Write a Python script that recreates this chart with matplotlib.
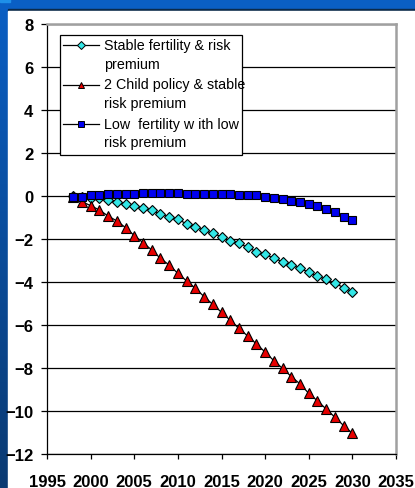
import numpy as np
import matplotlib
matplotlib.use("Agg")
import matplotlib.pyplot as plt
from matplotlib.patches import Rectangle
from matplotlib.lines import Line2D
from matplotlib.colors import LinearSegmentedColormap

plt.rcParams['font.family'] = ['Liberation Sans', 'DejaVu Sans']

years = list(range(1998, 2031))

stable_fertility = [0.00, -0.03, -0.08, -0.11, -0.19, -0.26, -0.36, -0.45, -0.54, -0.67,
                    -0.84, -0.98, -1.09, -1.29, -1.43, -1.60, -1.74, -1.89, -2.09, -2.20,
                    -2.39, -2.59, -2.71, -2.90, -3.05, -3.21, -3.36, -3.55, -3.72, -3.88,
                    -4.06, -4.26, -4.45]

two_child = [-0.06, -0.26, -0.45, -0.65, -0.93, -1.16, -1.47, -1.84, -2.17, -2.51,
             -2.90, -3.21, -3.60, -3.95, -4.29, -4.68, -5.04, -5.41, -5.78, -6.16,
             -6.51, -6.88, -7.26, -7.66, -8.02, -8.40, -8.74, -9.18, -9.53, -9.91,
             -10.29, -10.68, -11.04]

low_fertility = [-0.03, -0.03, 0.03, 0.03, 0.09, 0.09, 0.09, 0.09, 0.16, 0.16,
                 0.16, 0.16, 0.16, 0.09, 0.09, 0.09, 0.09, 0.09, 0.09, 0.03,
                 0.03, 0.03, -0.03, -0.09, -0.16, -0.22, -0.26, -0.39, -0.48, -0.62,
                 -0.76, -0.96, -1.12]

labels = ["Stable fertility & risk\npremium",
          "2 Child policy & stable\nrisk premium",
          "Low  fertility w ith low\nrisk premium"]

x_ticks = list(range(1995, 2036, 5))
y_ticks = list(range(-12, 9, 2))

W, H = 415, 489
fig = plt.figure(figsize=(W / 100, H / 100), dpi=100)

# slide background: blue gradient with a white content panel
bg = fig.add_axes([0, 0, 1, 1], zorder=-10)
bg.set_axis_off()
grad = np.linspace(0, 1, 256).reshape(-1, 1)
cmap = LinearSegmentedColormap.from_list("slide", ["#0a5fc4", "#0a3a72"])
bg.imshow(grad, aspect="auto", cmap=cmap, extent=[0, W, H, 0])
bg.set_xlim(0, W)
bg.set_ylim(H, 0)
bg.add_patch(Rectangle((0, 0), W, 10, color="#0a5fc4", zorder=1))
bg.add_patch(Rectangle((0, 0), 10, 2.5, color="#1e90e8", zorder=2))
bg.add_patch(Rectangle((8, 10), W, 2, color="#0b2a4a", zorder=2))
bg.add_patch(Rectangle((8, 11.5), W, H, color="white", zorder=2))

ax = fig.add_axes([47 / W, 1 - 455 / H, (396 - 47) / W, (455 - 25) / H])
ax.set_facecolor("white")

styles = [
    dict(marker="D", ms=5.5, mfc="#33e6e6"),
    dict(marker="^", ms=6.8, mfc="#e60000"),
    dict(marker="s", ms=6.3, mfc="#0000f0"),
]
series = [stable_fertility, two_child, low_fertility]
for vals, st, z in zip(series, styles, (3, 3, 4)):
    ax.plot(years, vals, color="black", lw=0.9, mec="black", mew=0.8, zorder=z, **st)

ax.set_xlim(1995, 2035)
ax.set_ylim(-12, 8)
ax.set_xticks(x_ticks)
ax.set_yticks(y_ticks)
ax.yaxis.grid(True, color="black", lw=0.9)
ax.set_axisbelow(True)

for side in ("top", "right"):
    ax.spines[side].set_color("#a0a0a0")
    ax.spines[side].set_linewidth(1.8)
for side in ("left", "bottom"):
    ax.spines[side].set_color("black")
    ax.spines[side].set_linewidth(0.9)

ax.tick_params(axis="both", direction="out", width=0.9, color="black", labelsize=12)
ax.tick_params(axis="x", length=3.6, pad=10.5)
ax.tick_params(axis="y", length=4.3, pad=5.5)
for lab in ax.get_xticklabels() + ax.get_yticklabels():
    lab.set_fontweight("bold")

# legend box, laid out in figure pixels
ov = fig.add_axes([0, 0, 1, 1], zorder=10)
ov.set_axis_off()
ov.patch.set_alpha(0)
ov.set_xlim(0, W)
ov.set_ylim(H, 0)
ov.add_patch(Rectangle((60, 36), 182, 120, facecolor="white", edgecolor="black", lw=0.9))
for i, (lab, st) in enumerate(zip(labels, styles)):
    y0 = 46 + i * 39.5
    ov.add_line(Line2D([63, 99], [y0, y0], color="black", lw=0.9))
    ov.add_line(Line2D([81], [y0], marker=st["marker"], ms=st["ms"] * 0.72,
                       mfc=st["mfc"], mec="black", mew=0.7, ls="none"))
    first, second = lab.split("\n")
    ov.text(104, y0, first, fontsize=10.3, va="center", ha="left")
    ov.text(104, y0 + 18.5, second, fontsize=10.3, va="center", ha="left")

fig.savefig("out.png", dpi=100)
